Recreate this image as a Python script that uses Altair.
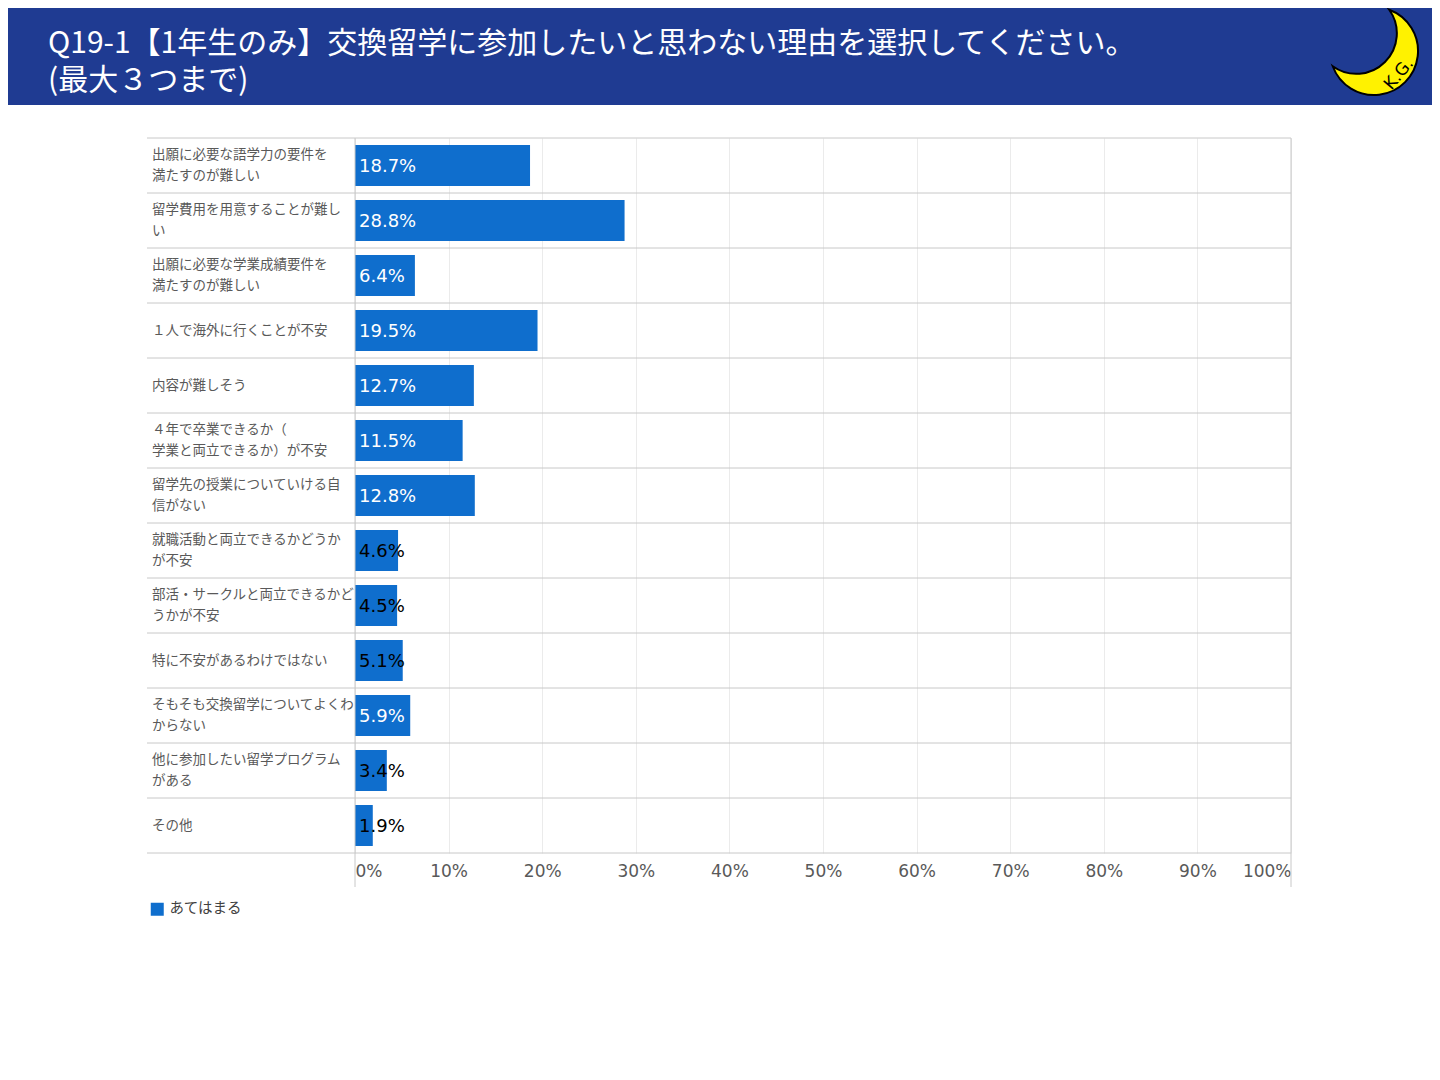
import altair as alt
import pandas as pd

TITLE_LINES = [
    "Q19-1【1年生のみ】交換留学に参加したいと思わない理由を選択してください。",
    "(最大３つまで)",
]
CATEGORIES = [
    "出願に必要な語学力の要件を\n満たすのが難しい",
    "留学費用を用意することが難し\nい",
    "出願に必要な学業成績要件を\n満たすのが難しい",
    "１人で海外に行くことが不安",
    "内容が難しそう",
    "４年で卒業できるか（\n学業と両立できるか）が不安",
    "留学先の授業についていける自\n信がない",
    "就職活動と両立できるかどうか\nが不安",
    "部活・サークルと両立できるかど\nうかが不安",
    "特に不安があるわけではない",
    "そもそも交換留学についてよくわ\nからない",
    "他に参加したい留学プログラム\nがある",
    "その他",
]
VALUES = [18.7, 28.8, 6.4, 19.5, 12.7, 11.5, 12.8, 4.6, 4.5, 5.1, 5.9, 3.4, 1.9]
SERIES = "あてはまる"
X_TICKS = [0, 10, 20, 30, 40, 50, 60, 70, 80, 90, 100]
LOGO_TEXT = "K.G."

HEADER = "#1F3B92"
BAR = "#0F6ECD"
LINE = "#c8c8c8"
GRID = "#ebebeb"
TXT = "#595959"
JP = "Noto Sans CJK JP"
LAT = "DejaVu Sans"

W, H = 936, 715
LH = 21

n = len(CATEGORIES)
df = pd.DataFrame({
    "idx": list(range(n)),
    "label": CATEGORIES,
    "value": VALUES,
    "pct": [f"{v:.1f}%" for v in VALUES],
    "series": [SERIES] * n,
})
bounds = pd.DataFrame({"b": list(range(n + 1))})
edges = pd.DataFrame({"v": [X_TICKS[0], X_TICKS[-1]]})
one = pd.DataFrame({"k": [0]})
title_df = pd.DataFrame({"t": TITLE_LINES, "line": list(range(len(TITLE_LINES)))})
logo_df = pd.DataFrame({"t": [LOGO_TEXT]})

xscale = alt.Scale(domain=[0, 100], nice=False)
yband = alt.Y("idx:O", scale=alt.Scale(domain=list(range(n)), paddingInner=0.2545,
                                       paddingOuter=0.127), axis=None)

header = alt.Chart(one).mark_rect(color=HEADER).encode(
    x=alt.value(-347), x2=alt.value(1077), y=alt.value(-130), y2=alt.value(-33)
)
title1 = alt.Chart(title_df).transform_filter("datum.line == 0").mark_text(
    fontSize=30, color="white", align="left", baseline="middle", font=JP
).encode(x=alt.value(-307), y=alt.value(-94), text="t:N")
title2 = alt.Chart(title_df).transform_filter("datum.line == 1").mark_text(
    fontSize=30, color="white", align="left", baseline="middle", font=JP
).encode(x=alt.value(-307), y=alt.value(-57), text="t:N")

CRESCENT = "M0.346,-0.938 A1,1 0 1,1 -0.938,0.346 A0.92,0.92 0 0,0 0.346,-0.938 Z"
moon = alt.Chart(one).mark_point(
    shape=CRESCENT, size=7744, filled=True, fill="#FFF200", stroke="black",
    strokeWidth=2, opacity=1
).encode(x=alt.value(1019), y=alt.value(-87))
logo = alt.Chart(logo_df).mark_text(
    angle=310, fontSize=17, font=LAT, color="black", align="center", baseline="middle"
).encode(x=alt.value(1044), y=alt.value(-64), text="t:N")

bars = alt.Chart(df).mark_bar().encode(
    x=alt.X("value:Q", scale=xscale, title=None, axis=alt.Axis(
        values=X_TICKS, labelExpr="datum.value + '%'", grid=True, gridColor=GRID,
        domain=False, ticks=False, labelFlush=True, labelFontSize=17,
        labelColor=TXT, labelFont=LAT, labelPadding=10, orient="bottom")),
    y=yband,
    color=alt.Color("series:N", scale=alt.Scale(range=[BAR]), legend=alt.Legend(
        title=None, orient="none", legendX=-205, legendY=764, symbolType="square",
        symbolSize=169, symbolStrokeWidth=0, labelFontSize=14.5, labelFont=JP,
        labelColor="#404040", labelOffset=5)),
)
bar_text = alt.Chart(df).mark_text(
    align="left", baseline="middle", dx=4, dy=1, fontSize=18, font=LAT
).encode(
    x=alt.datum(0),
    y=yband,
    text="pct:N",
    color=alt.condition("datum.value >= 5.5", alt.value("white"), alt.value("black")),
)
cat_single = alt.Chart(df).transform_filter(
    "indexof(datum.label, '\\n') < 0"
).mark_text(
    align="left", baseline="middle", fontSize=13.5, font=JP, color=TXT
).encode(x=alt.value(-203), y=yband, text="label:N")
cat_double = alt.Chart(df).transform_filter(
    "indexof(datum.label, '\\n') >= 0"
).mark_text(
    align="left", baseline="middle", lineBreak="\n", lineHeight=LH, dy=-LH / 2,
    fontSize=13.5, font=JP, color=TXT
).encode(x=alt.value(-203), y=yband, text="label:N")

rows = alt.Chart(bounds).mark_rule(color=LINE, strokeWidth=1).encode(
    x=alt.value(-208), x2=alt.value(W),
    y=alt.Y("b:Q", scale=alt.Scale(domain=[0, n], nice=False, zero=False), axis=None),
)
vlines = alt.Chart(edges).mark_rule(color=LINE, strokeWidth=1).encode(
    x=alt.X("v:Q", scale=xscale), y=alt.value(0), y2=alt.value(749)
)

chart = alt.layer(
    header, title1, title2, moon, logo, bars, rows, vlines, bar_text, cat_single, cat_double
).resolve_scale(y="independent").properties(
    width=W, height=H,
    padding={"left": 347, "top": 130, "right": 141, "bottom": 200},
    autosize=alt.AutoSizeParams(type="none"),
).configure_view(stroke=None)

chart.save("out.html", embed_options={"renderer": "svg", "actions": False})
